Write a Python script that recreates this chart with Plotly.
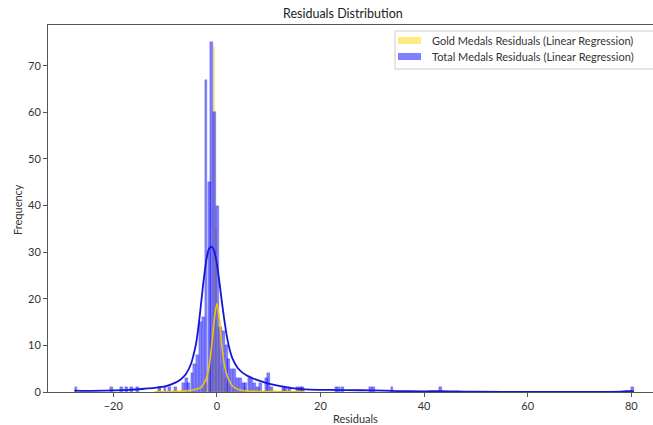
import plotly.graph_objects as go

# ---------------- data ----------------
# Total medals residuals histogram: bin centres and counts
blue_centers = [-27.2, -20.3, -18.4, -17.4, -16.5, -15.3, -11.0, -10.0, -9.2, -8.0,
                -6.5, -5.9, -5.4, -4.8, -4.3, -3.7, -3.2, -2.6, -2.1, -1.5,
                -1.0, -0.4, 0.1, 0.7, 1.2, 1.8, 2.3, 2.9, 3.4, 4.0,
                4.5, 5.1, 5.6, 6.2, 6.7, 7.3, 7.8, 8.4, 9.5, 10.0,
                10.6, 12.8, 13.3, 14.0, 15.6, 16.1, 16.6, 23.0, 23.5, 24.3,
                29.7, 30.2, 33.8, 43.2, 80.2]
blue_counts = [1, 1, 1, 1, 1, 1, 1, 1, 1, 1,
               2, 3, 2, 4, 6, 8, 15, 16, 67, 45,
               75, 60, 40, 14, 13, 10, 7, 5, 5, 3,
               3, 2, 2, 3, 3, 2, 1, 2, 3, 4,
               1, 1, 1, 1, 1, 1, 1, 1, 1, 1,
               1, 1, 1, 1, 1]
blue_width = 0.55

# Gold medals residuals histogram
gold_centers = [-11.0, -3.35, -2.65, -2.3, -1.95, -1.6, -1.25, -0.9, -0.55, -0.2,
                0.15, 0.5, 0.85, 1.2, 1.55, 1.9, 2.25, 2.6, 3.3, 4.0, 5.4, 8.2, 16.6]
gold_counts = [1, 1, 1, 2, 2, 3, 5, 12, 74, 35,
               14, 9, 6, 4, 3, 2, 2, 1, 1, 1, 1, 1, 1]
gold_width = 0.35

# KDE curves (scaled to counts)
blue_kde_x = [-27.5, -25, -20, -17, -14, -12, -10, -8, -7, -6, -5, -4.5, -4, -3.5, -3,
              -2.5, -2, -1.5, -1, -0.5, 0, 0.5, 1, 1.5, 2, 2.5, 3, 4, 5, 6, 7, 8, 10,
              12, 14, 16, 18, 22, 25, 30, 35, 40, 43, 50, 60, 70, 78, 80, 80.5]
blue_kde_y = [0.3, 0.25, 0.35, 0.45, 0.7, 0.9, 1.2, 2.0, 2.7, 3.8, 6.0, 8.0, 10.5, 14.5, 19.5,
              24.5, 28.5, 30.8, 31.2, 30.2, 27.5, 23.5, 19.0, 15.0, 11.5, 9.0, 7.2, 5.2, 4.1, 3.4, 2.9, 2.5, 1.8,
              1.3, 0.9, 0.65, 0.5, 0.45, 0.4, 0.35, 0.2, 0.15, 0.2, 0.05, 0.02, 0.02, 0.1, 0.2, 0.15]

gold_kde_x = [-12, -8, -6, -4, -3, -2.5, -2, -1.5, -1, -0.5, 0, 0.5, 1, 1.5, 2, 2.5, 3,
              4, 6, 10, 14, 17]
gold_kde_y = [0.05, 0.1, 0.25, 0.6, 1.0, 1.9, 3.0, 5.5, 10.0, 15.5, 19.0, 15.5, 9.5, 5.6, 3.5, 2.2, 1.3,
              0.6, 0.2, 0.1, 0.05, 0.03]

x_ticks = [-20, 0, 20, 40, 60, 80]
y_ticks = [0, 10, 20, 30, 40, 50, 60, 70]

legend_labels = ["Gold Medals Residuals (Linear Regression)",
                 "Total Medals Residuals (Linear Regression)"]

# ---------------- figure ----------------
W, H = 653, 425
L, R, T, B = 48, 0, 25, 33
pw, ph = W - L - R, H - T - B
FONT = "Lato"
TXT = "#333333"
AX = "#555555"

fig = go.Figure()
fig.add_trace(go.Bar(x=gold_centers, y=gold_counts, width=gold_width,
                     marker=dict(color="rgba(255,215,0,0.5)", line=dict(width=0)),
                     showlegend=False, hoverinfo="skip"))
fig.add_trace(go.Bar(x=blue_centers, y=blue_counts, width=blue_width,
                     marker=dict(color="rgba(0,0,255,0.5)", line=dict(width=0.4, color="rgba(40,40,230,0.6)")),
                     showlegend=False, hoverinfo="skip"))
fig.add_trace(go.Scatter(x=gold_kde_x, y=gold_kde_y, mode="lines",
                         line=dict(color="#F2C400", width=1.6, shape="spline", smoothing=0.8),
                         showlegend=False, hoverinfo="skip"))
fig.add_trace(go.Scatter(x=blue_kde_x, y=blue_kde_y, mode="lines",
                         line=dict(color="#1515D8", width=1.8, shape="spline", smoothing=0.8),
                         showlegend=False, hoverinfo="skip"))

x0 = -32.6
x1 = x0 + pw / 5.18
fig.update_layout(
    width=W, height=H,
    margin=dict(l=L, r=R, t=T, b=B, pad=0),
    paper_bgcolor="white", plot_bgcolor="white",
    barmode="overlay", bargap=0,
    font=dict(family=FONT, color=TXT, size=11),
    xaxis=dict(range=[x0, x1], tickvals=x_ticks, showgrid=False, zeroline=False,
               showline=True, linecolor=AX, linewidth=1, mirror=True,
               ticks="outside", ticklen=4, tickcolor=AX, tickwidth=1,
               tickfont=dict(size=11, color=TXT, family=FONT)),
    yaxis=dict(range=[0, 78.75], tickvals=y_ticks, showgrid=False, zeroline=False,
               showline=True, linecolor=AX, linewidth=1, mirror=True,
               ticks="outside", ticklen=4, tickcolor=AX, tickwidth=1,
               tickfont=dict(size=11, color=TXT, family=FONT)),
)

def px(x):
    return (x - L) / pw

def py(y):
    return (H - B - y) / ph

annotations = [
    dict(text="Residuals Distribution", x=px(343), y=py(14), xref="paper", yref="paper",
         showarrow=False, xanchor="center", yanchor="middle", font=dict(size=12.5, color="#222", family=FONT)),
    dict(text="Frequency", x=px(17), y=py(210), xref="paper", yref="paper", textangle=-90,
         showarrow=False, xanchor="center", yanchor="middle", font=dict(size=11, color=TXT, family=FONT)),
    dict(text="Residuals", x=px(355), y=py(418), xref="paper", yref="paper",
         showarrow=False, xanchor="center", yanchor="middle", font=dict(size=11, color=TXT, family=FONT)),
    dict(text=legend_labels[0], x=px(430), y=py(41), xref="paper", yref="paper",
         showarrow=False, xanchor="left", yanchor="middle", font=dict(size=11, color=TXT, family=FONT)),
    dict(text=legend_labels[1], x=px(430), y=py(57), xref="paper", yref="paper",
         showarrow=False, xanchor="left", yanchor="middle", font=dict(size=11, color=TXT, family=FONT)),
]
shapes = [
    dict(type="rect", xref="paper", yref="paper", x0=px(395), x1=px(662), y0=py(69), y1=py(31),
         fillcolor="rgba(255,255,255,0.85)", line=dict(color="#cccccc", width=1), layer="above"),
    dict(type="rect", xref="paper", yref="paper", x0=px(398), x1=px(421), y0=py(44), y1=py(37),
         fillcolor="rgba(255,215,0,0.5)", line=dict(width=0), layer="above"),
    dict(type="rect", xref="paper", yref="paper", x0=px(398), x1=px(421), y0=py(60), y1=py(53),
         fillcolor="rgba(0,0,255,0.5)", line=dict(width=0), layer="above"),
]
fig.update_layout(annotations=annotations, shapes=shapes)

fig.write_html("out.html")
